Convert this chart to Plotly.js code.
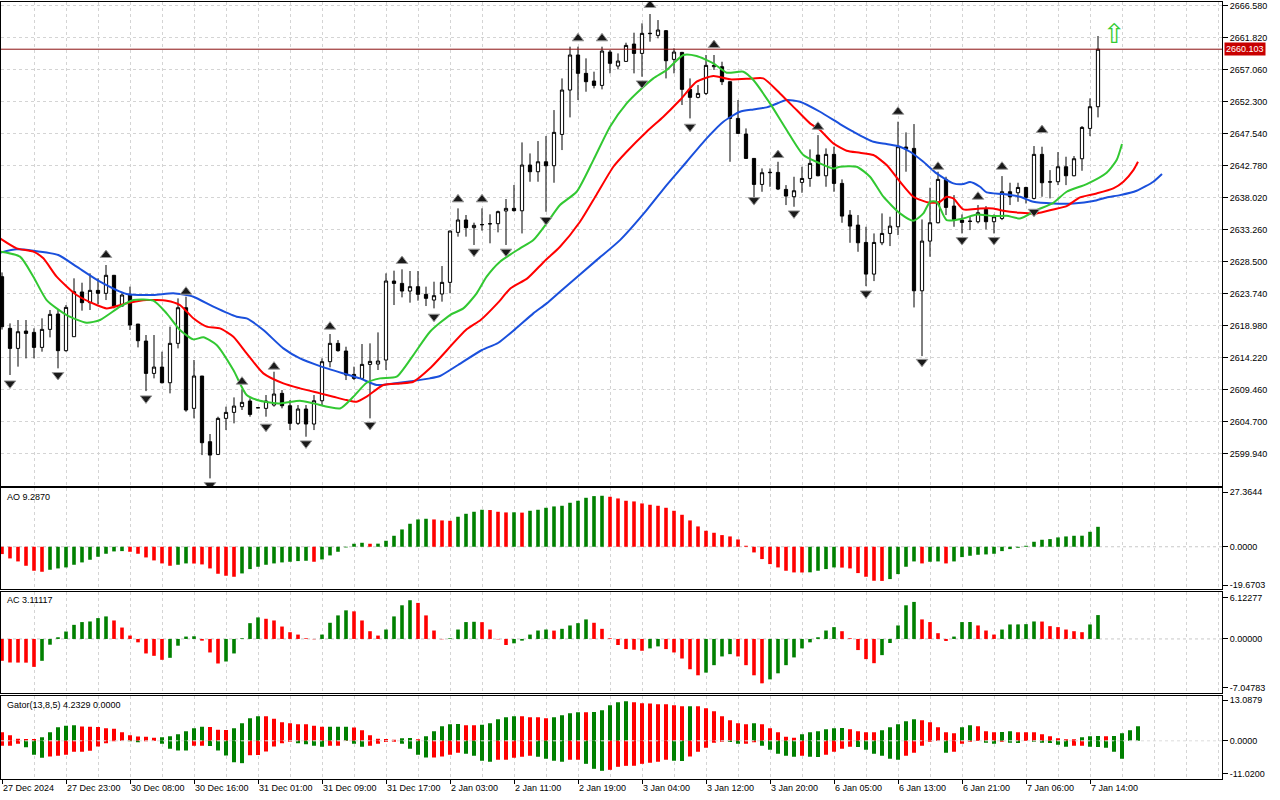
<!DOCTYPE html>
<html><head><meta charset="utf-8">
<script src="https://cdn.plot.ly/plotly-3.0.1.min.js"></script>
<style>html,body{margin:0;padding:0;background:#fff}#chart{width:1280px;height:800px}</style>
</head><body><div id="chart"></div>
<script>
// ---------- DATA ----------
const xTickVals = [0,8,16,24,32,40,48,56,64,72,80,88,96,104,112,120,128,136];
const xTickText = ["27 Dec 2024","27 Dec 23:00","30 Dec 08:00","30 Dec 16:00","31 Dec 01:00","31 Dec 09:00","31 Dec 17:00","2 Jan 03:00","2 Jan 11:00","2 Jan 19:00","3 Jan 04:00","3 Jan 12:00","3 Jan 20:00","6 Jan 05:00","6 Jan 13:00","6 Jan 21:00","7 Jan 06:00","7 Jan 14:00"];
const priceTicks = [2599.94,2604.70,2609.46,2614.22,2618.98,2623.74,2628.50,2633.26,2638.02,2642.78,2647.54,2652.30,2657.06,2661.82,2666.58];

const openP = [
2626.27,2618.58,2615.60,2618.18,2617.98,2615.75,2618.43,2620.71,2615.26,2617.34,
2623.99,2622.40,2624.23,2623.79,2626.47,2621.90,2623.64,2619.22,2616.69,2611.88,
2612.82,2610.49,2616.35,2621.65,2606.68,2611.49,2601.72,2599.83,2605.19,2606.08,
2606.93,2607.77,2606.78,2606.68,2607.17,2608.91,2607.07,2604.45,2606.58,2604.35,
2607.81,2613.62,2616.35,2615.21,2611.73,2611.14,2613.22,2613.27,2613.87,2625.62,
2625.27,2624.13,2624.78,2623.64,2622.79,2623.69,2625.42,2632.86,2634.70,2633.56,
2634.03,2634.15,2634.15,2636.04,2636.43,2636.07,2642.87,2641.88,2643.36,2642.77,
2647.43,2654.03,2659.24,2656.51,2655.37,2654.72,2659.68,2657.60,2658.29,2660.87,
2659.48,2662.41,2662.16,2662.86,2658.59,2659.63,2654.13,2652.94,2653.53,2657.50,
2657.50,2655.27,2649.81,2647.48,2643.86,2639.99,2641.73,2641.78,2639.25,2638.16,
2640.29,2640.88,2644.36,2641.28,2644.46,2640.14,2635.43,2633.94,2631.36,2626.65,
2631.31,2632.70,2633.69,2645.55,2645.35,2624.17,2631.56,2634.29,2640.74,2636.77,
2634.68,2634.54,2634.44,2636.27,2634.44,2634.93,2638.90,2638.75,2639.54,2637.91,
2644.46,2640.39,2640.39,2642.62,2641.28,2643.81,2648.32,2651.55];
const highP = [
2626.90,2619.32,2619.82,2619.82,2618.58,2620.07,2621.31,2621.31,2622.05,2626.02,
2625.37,2626.76,2626.02,2628.00,2626.52,2623.79,2624.78,2619.22,2617.59,2617.59,
2615.11,2618.83,2623.04,2623.29,2613.87,2611.49,2602.86,2605.44,2606.93,2608.31,
2609.50,2608.17,2606.82,2608.66,2612.13,2609.40,2607.91,2607.17,2607.17,2608.66,
2614.11,2617.74,2616.84,2615.85,2612.88,2616.25,2616.35,2617.98,2626.76,2627.16,
2627.36,2627.11,2627.11,2624.78,2625.52,2627.85,2633.10,2636.43,2635.44,2634.30,
2636.43,2635.54,2636.09,2637.82,2639.91,2646.24,2644.60,2646.44,2647.18,2651.05,
2655.76,2660.48,2660.48,2658.74,2656.76,2660.48,2659.98,2659.48,2661.07,2662.56,
2663.95,2665.34,2664.44,2662.96,2660.23,2659.70,2655.76,2654.77,2659.24,2659.24,
2658.24,2655.30,2652.54,2648.32,2643.90,2642.37,2642.37,2643.36,2639.89,2641.13,
2642.62,2645.20,2647.33,2645.35,2645.60,2640.74,2636.17,2635.43,2633.69,2632.70,
2635.68,2635.18,2649.32,2647.73,2648.97,2634.78,2639.50,2641.88,2641.13,2638.40,
2635.53,2635.18,2636.92,2636.77,2635.53,2641.23,2640.24,2640.24,2639.64,2645.70,
2645.60,2642.12,2644.80,2644.11,2644.21,2648.67,2652.79,2662.06];
const lowP = [
2618.40,2611.64,2612.88,2614.11,2614.11,2615.11,2617.24,2612.63,2615.11,2617.34,
2621.21,2621.31,2622.20,2622.79,2621.55,2621.80,2618.33,2615.75,2609.25,2611.14,
2610.39,2608.91,2615.60,2606.18,2605.19,2599.73,2596.26,2599.73,2603.45,2604.45,
2606.43,2605.44,2606.74,2605.44,2606.93,2606.68,2603.45,2604.20,2602.46,2603.45,
2607.17,2612.78,2615.11,2610.89,2610.89,2610.89,2605.19,2612.38,2612.38,2622.05,
2623.19,2622.40,2622.70,2621.90,2621.55,2622.55,2623.79,2632.22,2632.22,2630.98,
2633.11,2631.23,2632.86,2630.98,2635.94,2632.70,2640.39,2640.39,2635.92,2640.24,
2645.10,2649.96,2652.54,2653.78,2654.28,2654.13,2656.51,2657.10,2658.24,2656.51,
2656.01,2661.22,2661.72,2655.76,2656.51,2651.80,2649.81,2652.79,2653.28,2657.01,
2654.77,2643.36,2647.50,2643.80,2637.66,2638.90,2639.64,2639.15,2636.92,2636.67,
2638.75,2639.64,2641.20,2639.64,2638.90,2634.29,2631.31,2629.97,2624.86,2625.61,
2630.96,2630.82,2632.45,2641.88,2621.69,2614.45,2629.23,2634.19,2635.43,2633.69,
2632.70,2633.20,2634.19,2633.30,2632.70,2634.68,2636.92,2637.41,2637.16,2637.76,
2638.16,2637.91,2639.89,2639.89,2641.20,2642.02,2647.18,2649.96];
const closeP = [
2618.83,2615.60,2618.08,2617.83,2615.75,2618.43,2620.66,2615.26,2621.70,2624.03,
2622.40,2624.23,2623.79,2626.47,2621.90,2623.54,2619.07,2616.74,2611.88,2612.82,
2610.49,2616.35,2621.65,2606.43,2611.49,2601.57,2599.73,2605.19,2606.08,2607.02,
2607.57,2605.78,2606.76,2607.77,2608.81,2607.07,2604.45,2606.58,2604.35,2607.81,
2613.62,2616.35,2615.26,2611.64,2611.14,2613.22,2613.67,2613.72,2625.62,2625.27,
2624.13,2624.78,2623.64,2623.04,2623.44,2625.42,2633.06,2634.70,2633.56,2633.90,
2634.00,2634.13,2635.94,2636.43,2636.09,2642.87,2641.88,2643.36,2642.77,2647.73,
2654.03,2659.24,2656.51,2655.27,2654.72,2659.83,2658.00,2658.34,2660.67,2659.48,
2662.46,2662.46,2662.96,2658.39,2659.68,2654.13,2652.94,2653.53,2657.70,2657.70,
2655.27,2649.81,2647.58,2643.86,2639.99,2641.73,2641.78,2639.30,2638.26,2639.05,
2640.88,2643.12,2641.28,2644.46,2640.14,2635.28,2633.79,2631.31,2626.65,2631.36,
2632.70,2633.79,2645.60,2645.30,2624.17,2631.56,2634.29,2640.74,2636.57,2634.78,
2634.34,2634.49,2635.78,2634.44,2635.18,2638.90,2638.16,2639.54,2638.06,2644.46,
2640.24,2640.34,2642.62,2641.28,2643.81,2648.47,2651.55,2660.103];

// Alligator lines (bar position, price)
const jawX = [-0.25,1.83,3.92,7.04,9.33,12.25,15.58,18.92,21.42,23.92,26.42,29.33,30.58,32.67,35.17,37.25,39.75,42.67,44.75,46.83,48.92,53.5,54.75,57,60,62,64.12,66.42,68.08,69.75,74.33,77.25,80.58,83.08,85.58,88.08,90.17,92.25,93.92,95.58,96.42,98.08,99.75,102.25,104.75,106.42,108.92,110.58,112.25,113.5,115.17,116.83,118.92,120.17,121,122.25,123.08,125.17,127.25,128.92,131.42,133.92,136.42,138.08,139.75,141.83,143.92,145];
const jawY = [2629.84,2630.33,2630.13,2629.49,2627.75,2625.52,2623.69,2623.54,2623.79,2623.29,2621.80,2620.31,2620.07,2618.33,2615.60,2614.11,2612.97,2611.88,2611.14,2610.15,2610.39,2611.14,2611.49,2613.13,2615.36,2616.40,2618.43,2620.81,2622.30,2624.03,2628.73,2631.71,2636.17,2639.89,2643.36,2646.84,2649.32,2650.80,2651.15,2651.45,2651.80,2652.54,2652.29,2650.80,2648.97,2647.83,2646.34,2645.99,2645.60,2644.85,2643.36,2641.63,2640.14,2640.04,2640.34,2639.64,2638.80,2638.55,2638.16,2637.41,2637.16,2637.16,2637.51,2638.06,2638.40,2639.05,2640.39,2641.53];
const teethX = [-0.25,1.83,3.92,5.17,6.83,9.33,11.83,13.08,15.58,18.08,20.58,22.25,23.92,25.58,27.25,28.92,30.58,32.67,35.17,37.25,39.75,41.42,43.08,44.33,45.58,47.67,49.75,51.42,53.5,58.08,59.83,61.92,63.58,65.67,67.75,69.75,72.25,74.33,76.42,78.08,80.58,82.67,84.75,86.83,88.92,91,93.92,95.17,97.25,99.33,101,102.25,103.92,105.58,107.25,108.92,110.58,112.25,113.92,116,117.25,118.08,118.92,120.17,122.25,123.92,125.17,127.25,129.33,131.42,133.08,134.75,136.83,138.92,140.17,141.42,142];
const teethY = [2631.97,2630.48,2629.99,2629.00,2626.27,2623.54,2622.05,2621.55,2622.30,2622.79,2622.70,2622.05,2620.07,2618.83,2618.58,2617.34,2614.86,2611.88,2610.39,2609.65,2608.91,2608.41,2607.91,2607.67,2608.41,2610.15,2610.39,2610.64,2612.63,2618.43,2619.82,2622.30,2624.53,2626.02,2628.50,2630.72,2634.44,2638.50,2642.62,2644.85,2647.83,2650.06,2652.54,2655.27,2656.11,2655.62,2655.76,2655.76,2653.53,2651.05,2649.07,2648.08,2646.09,2645.00,2644.70,2644.36,2642.87,2640.39,2638.16,2637.26,2637.41,2638.16,2637.91,2636.27,2636.42,2636.42,2636.07,2635.78,2635.68,2636.27,2636.77,2638.06,2638.65,2639.40,2640.39,2642.12,2643.36];
const lipsX = [-0.25,2.25,3.92,5.58,8.08,10.58,12.25,14.75,16.42,18.92,20.58,22.25,23.92,25.17,26.83,28.92,30.58,32.25,34.75,37.25,38.92,42.25,43.92,45.58,47.25,49.33,51.42,53.5,56,57.67,59.33,60.58,62.25,64.75,66.42,68.08,69.75,71.83,73.92,76,78.08,79.75,81.42,83.08,85.17,86.83,88.92,90.58,92.67,93.92,96,98.08,100.17,102.25,103.92,104.75,106.83,108.5,110.17,112.25,113.92,115.17,116,116.83,118.08,120.17,121.83,123.92,125.58,127.25,129.33,131.42,133.08,135.58,138.08,139.33,140];
const lipsY = [2629.99,2629.24,2626.27,2622.79,2620.56,2619.42,2619.82,2621.80,2622.79,2622.70,2620.81,2618.33,2616.94,2617.24,2616.10,2612.38,2608.66,2607.81,2607.42,2607.81,2607.42,2606.67,2608.41,2610.49,2611.14,2611.39,2614.61,2618.08,2620.56,2621.55,2623.79,2626.27,2628.50,2630.48,2631.72,2634.20,2636.93,2638.90,2643.61,2648.57,2652.04,2654.03,2655.76,2657.00,2659.24,2659.09,2658.00,2656.61,2656.76,2655.52,2652.04,2648.08,2644.36,2643.12,2642.37,2642.62,2642.62,2641.13,2638.16,2635.68,2634.59,2635.68,2637.41,2637.41,2634.68,2634.93,2635.53,2635.28,2635.33,2634.93,2636.17,2637.26,2638.90,2640.04,2641.73,2643.61,2646.00];

// Fractals
const fracUpX = [13,23,30,34,41,50,57,60,72,75,81,89,97,102,112,117,122,125,130];
const fracUpY = [2629.49,2624.03,2610.64,2612.88,2618.83,2628.60,2637.77,2637.77,2661.72,2661.72,2666.68,2660.72,2644.36,2648.57,2650.80,2642.62,2638.16,2642.62,2648.08];
const fracDnX = [1,7,18,26,33,38,46,54,59,63,68,80,86,94,99,108,115,120,124,129];
const fracDnY = [2610.39,2611.64,2608.16,2595.27,2603.95,2601.47,2604.20,2620.31,2629.99,2629.99,2634.70,2655.02,2648.57,2637.66,2635.68,2623.77,2613.60,2631.71,2631.71,2635.92];
const signalX = [139];
const signalY = [2662.44];

// Awesome Oscillator
const aoVals = [
-3.41,-5.43,-6.83,-8.85,-11.17,-11.64,-10.71,-10.09,-9.62,-8.38,
-7.29,-6.05,-4.66,-3.26,-2.17,-2.02,-2.33,-3.26,-4.97,-6.36,
-7.76,-8.85,-8.38,-7.76,-7.80,-8.23,-10.09,-12.57,-13.50,-13.97,
-12.42,-10.40,-9.31,-8.38,-7.76,-7.29,-6.98,-6.67,-6.52,-6.98,
-5.90,-4.04,-2.33,-0.31,1.40,1.86,1.40,1.45,2.79,5.12,
8.07,10.71,12.73,13.04,12.73,12.26,12.10,13.97,15.36,16.30,
17.23,17.10,16.30,15.99,16.05,15.90,16.76,17.23,18.16,18.78,
19.09,20.49,21.42,22.81,23.59,23.75,23.28,22.50,21.42,21.11,
20.18,19.56,19.09,18.16,16.76,14.90,12.26,9.47,7.45,6.52,
5.43,4.81,3.41,0.47,-2.64,-5.74,-8.07,-9.62,-11.17,-11.95,
-11.98,-11.90,-11.17,-10.40,-9.62,-9.70,-10.09,-12.26,-13.97,-15.83,
-15.90,-15.05,-12.73,-9.31,-6.83,-7.76,-6.98,-6.83,-7.76,-6.83,
-4.81,-4.19,-3.72,-3.57,-3.26,-2.02,-1.09,-0.47,0.47,2.33,
3.26,3.57,4.35,4.81,5.12,5.15,6.98,9.287];
const aoTickVals = [25.50, 0, -17.81];
const aoTickText = ["27.3644","0.0000","-19.6703"];

// Accelerator Oscillator
const acVals = [
-2.85,-3.07,-3.08,-3.09,-3.64,-2.85,-0.75,0.22,0.97,1.84,
2.20,2.28,2.72,2.94,2.41,1.49,0.44,-0.44,-1.89,-2.20,
-2.72,-2.46,-0.88,0.31,0.35,-0.22,-1.76,-3.20,-2.94,-1.89,
0.09,2.06,2.81,2.63,2.41,1.62,0.88,0.57,0.09,-0.04,
0.57,2.11,3.07,3.73,3.60,2.41,1.01,0.44,1.23,2.94,
4.39,5.05,4.70,3.07,1.10,-0.04,0.09,1.23,2.20,2.24,
2.19,1.23,-0.05,-0.79,-0.57,-0.22,0.57,1.10,1.23,1.09,
1.32,1.76,2.06,2.55,2.11,1.32,0.09,-0.79,-1.32,-1.40,
-1.54,-1.23,-0.97,-1.32,-1.76,-2.55,-3.95,-4.74,-4.39,-3.42,
-2.28,-1.98,-2.28,-3.42,-4.74,-5.79,-5.27,-4.48,-3.42,-2.41,
-1.23,-0.44,0.22,1.10,1.54,1.01,0.09,-1.45,-2.63,-3.16,
-2.11,-0.53,1.76,4.39,4.83,2.55,2.20,0.75,-0.26,0.31,
2.20,2.21,1.76,1.10,0.57,1.23,1.89,1.90,1.93,2.28,
2.27,1.67,1.54,1.23,1.01,0.88,1.89,3.11117];
const acTickVals = [5.38, 0, -6.36];
const acTickText = ["6.12277","0.00000","-7.04783"];

// Gator Oscillator
const gatorUp = [
2.50,1.64,0.62,0.55,0.50,1.06,2.50,3.94,4.33,4.52,
4.14,4.04,3.98,3.66,3.46,2.50,1.64,1.25,1.15,0.87,
1.06,1.35,1.92,2.79,3.66,4.04,3.98,3.17,3.15,3.66,
5.10,6.54,7.12,7.10,6.35,5.39,5.10,4.81,4.79,4.33,
4.04,4.06,4.08,4.10,3.85,3.08,1.64,0.58,0.50,0.29,
0.77,0.79,0.48,1.35,2.79,4.23,4.81,4.83,4.52,4.50,
4.62,5.10,6.25,6.83,7.12,7.10,6.83,6.81,6.54,6.83,
7.41,7.98,8.27,8.25,8.29,8.85,10.29,11.16,11.45,11.16,
10.87,10.77,10.58,10.56,10.29,10.00,10.02,9.98,9.43,8.56,
7.12,5.96,5.10,4.81,5.10,4.81,3.66,2.50,1.15,0.87,
1.92,2.50,2.79,3.37,3.66,3.68,3.37,2.79,2.50,2.48,
3.08,3.94,4.81,5.68,6.25,5.96,5.39,3.94,2.50,2.21,
3.94,4.52,4.23,2.79,2.50,2.52,2.79,2.50,2.48,2.46,
1.92,1.35,0.77,0.48,0.46,1.06,1.35,1.37,1.35,1.40,
2.21,3.08,4.2329];
const gatorLo = [
-1.44,-1.40,-0.87,-1.83,-4.04,-4.91,-4.52,-4.33,-4.04,-3.17,
-3.15,-2.89,-1.64,-0.67,-0.10,-0.05,-0.10,-0.38,-0.10,-0.08,
-0.87,-2.31,-2.79,-2.80,-1.44,-1.42,-1.50,-2.79,-4.23,-6.16,
-6.45,-4.14,-4.12,-3.08,-1.64,-0.67,-0.29,-0.67,-0.96,-1.44,
-1.73,-1.44,-1.40,-0.05,-0.87,-1.73,-1.44,-0.87,-0.35,-0.29,
-0.87,-2.31,-4.04,-4.81,-4.79,-4.52,-4.04,-3.46,-3.75,-4.33,
-5.77,-6.06,-5.48,-5.46,-4.91,-4.62,-4.33,-4.62,-5.19,-5.77,
-6.06,-5.48,-5.46,-6.64,-8.08,-8.66,-8.37,-7.50,-7.22,-7.20,
-6.64,-6.35,-6.06,-5.48,-5.77,-5.79,-4.52,-3.17,-2.02,-0.58,
-0.29,-0.31,-0.87,-0.85,-0.40,-1.44,-2.60,-3.75,-4.33,-4.62,
-4.33,-4.62,-4.64,-4.04,-3.17,-2.31,-1.73,-1.75,-2.60,-3.75,
-4.33,-5.19,-5.48,-4.33,-3.46,-1.44,-0.29,-0.05,-3.46,-3.17,
-0.87,-0.29,-0.05,-0.58,-0.87,-0.29,-0.58,-0.62,-0.05,-0.29,
-0.58,-0.60,-1.15,-1.73,-1.44,-1.42,-1.73,-1.75,-2.02,-3.17,
-5.19];
const gatorTickVals = [11.70, 0, -9.49];
const gatorTickText = ["13.0879","0.0000","-11.0200"];

// ---------- STYLE / LAYOUT ----------
const FONT = 'Liberation Sans, Arial, sans-serif';
const FS = 9;
const GREEN = '#008000', RED = '#ff0000';
const GRID = '#d4d4d4';
const W = 1280, H = 800;
const px = v => v / W, py = v => 1 - v / H;

function risingColors(vals, useAbs) {
  return vals.map((v, i) => {
    if (i === 0) return RED;
    const a = useAbs ? Math.abs(v) : v;
    const b = useAbs ? Math.abs(vals[i - 1]) : vals[i - 1];
    return a > b ? GREEN : RED;
  });
}
const idx = arr => arr.map((_, i) => i);

const xRange = [-0.125, 152.5];
const xDomain = [px(1), px(1222)];
const minorVals = [];
for (let v = 0; v <= 152; v += 4) if (!xTickVals.includes(v)) minorVals.push(v);

function xAxis(anchor, showLabels) {
  const ax = {
    domain: xDomain, range: xRange, anchor: anchor, fixedrange: true,
    tickmode: 'array', tickvals: xTickVals, ticktext: xTickText, tickangle: 0,
    showticklabels: showLabels, ticks: showLabels ? 'outside' : '', ticklen: 4, tickcolor: '#000',
    tickfont: {family: FONT, size: FS, color: '#000'},
    showgrid: true, gridcolor: GRID, griddash: '3px,3px', gridwidth: 1,
    minor: {tickmode: 'array', tickvals: minorVals, showgrid: true, gridcolor: GRID, griddash: '3px,3px', ticks: ''},
    showline: true, mirror: true, linecolor: '#000', linewidth: 1, zeroline: false
  };
  if (showLabels) ax.ticklabelposition = 'outside right';
  return ax;
}
function yAxis(anchor, dom, range, tv, tt, grid) {
  return {
    domain: dom, range: range, anchor: anchor, side: 'right', fixedrange: true,
    tickmode: 'array', tickvals: tv, ticktext: tt,
    ticks: 'outside', ticklen: 5, tickcolor: '#000',
    tickfont: {family: FONT, size: FS, color: '#000'},
    showgrid: grid, gridcolor: GRID, griddash: '3px,3px',
    showline: true, mirror: true, linecolor: '#000', linewidth: 1, zeroline: false
  };
}

const last = closeP.length - 1;
const traces = [
  {type: 'candlestick', x: idx(openP), open: openP, high: highP, low: lowP, close: closeP,
   xaxis: 'x', yaxis: 'y', whiskerwidth: 0,
   increasing: {line: {color: '#000', width: 1}, fillcolor: '#ffffff'},
   decreasing: {line: {color: '#000', width: 1}, fillcolor: '#000000'},
   hoverinfo: 'skip'},
  {type: 'scatter', mode: 'lines', x: jawX, y: jawY, xaxis: 'x', yaxis: 'y',
   line: {color: '#1a50dc', width: 2, shape: 'spline', smoothing: 0.6}, hoverinfo: 'skip'},
  {type: 'scatter', mode: 'lines', x: teethX, y: teethY, xaxis: 'x', yaxis: 'y',
   line: {color: '#ff0000', width: 2, shape: 'spline', smoothing: 0.6}, hoverinfo: 'skip'},
  {type: 'scatter', mode: 'lines', x: lipsX, y: lipsY, xaxis: 'x', yaxis: 'y',
   line: {color: '#32c832', width: 2, shape: 'spline', smoothing: 0.6}, hoverinfo: 'skip'},
  {type: 'scatter', mode: 'markers', x: fracUpX, y: fracUpY, xaxis: 'x', yaxis: 'y',
   marker: {symbol: 'triangle-up', size: 10, color: '#1a1a1a', line: {color: '#9a9a9a', width: 1}}, hoverinfo: 'skip'},
  {type: 'scatter', mode: 'markers', x: fracDnX, y: fracDnY, xaxis: 'x', yaxis: 'y',
   marker: {symbol: 'triangle-down', size: 10, color: '#1a1a1a', line: {color: '#9a9a9a', width: 1}}, hoverinfo: 'skip'},
  {type: 'bar', x: idx(aoVals), y: aoVals, xaxis: 'x2', yaxis: 'y2', width: 0.45,
   marker: {color: risingColors(aoVals, false), line: {width: 0}}, hoverinfo: 'skip'},
  {type: 'bar', x: idx(acVals), y: acVals, xaxis: 'x3', yaxis: 'y3', width: 0.45,
   marker: {color: risingColors(acVals, false), line: {width: 0}}, hoverinfo: 'skip'},
  {type: 'bar', x: idx(gatorUp), y: gatorUp, xaxis: 'x4', yaxis: 'y4', width: 0.5,
   marker: {color: risingColors(gatorUp, true), line: {width: 0}}, hoverinfo: 'skip'},
  {type: 'bar', x: idx(gatorLo), y: gatorLo, xaxis: 'x4', yaxis: 'y4', width: 0.5,
   marker: {color: risingColors(gatorLo, true), line: {width: 0}}, hoverinfo: 'skip'}
];

const zeroLine = (xr, yr, color, layer) => ({type: 'line', xref: xr + ' domain', x0: 0, x1: 1, yref: yr, y0: 0, y1: 0,
  line: {color: color, width: 1, dash: '3px,3px'}, layer: layer});

const layout = {
  width: W, height: H, margin: {l: 0, r: 0, t: 0, b: 0, pad: 0},
  paper_bgcolor: '#ffffff', plot_bgcolor: '#ffffff', showlegend: false, hovermode: false,
  barmode: 'overlay', boxgap: 0.42,
  xaxis: Object.assign(xAxis('y', false), {rangeslider: {visible: false}}),
  xaxis2: xAxis('y2', false),
  xaxis3: xAxis('y3', false),
  xaxis4: xAxis('y4', true),
  yaxis: yAxis('x', [py(486), py(1.5)], [2595.13, 2667.20], priceTicks, priceTicks.map(v => v.toFixed(3)), true),
  yaxis2: yAxis('x2', [py(589), py(488)], [-19.6703, 27.3644], aoTickVals, aoTickText, false),
  yaxis3: yAxis('x3', [py(693), py(592)], [-7.04783, 6.12277], acTickVals, acTickText, false),
  yaxis4: yAxis('x4', [py(779), py(695.5)], [-11.02, 13.0879], gatorTickVals, gatorTickText, false),
  shapes: [
    zeroLine('x2', 'y2', '#c8c8c8', 'below'),
    zeroLine('x3', 'y3', '#c8c8c8', 'below'),
    zeroLine('x4', 'y4', '#dcdcdc', 'above'),
    {type: 'line', xref: 'x domain', x0: 0, x1: 1, yref: 'y', y0: closeP[last], y1: closeP[last],
     line: {color: '#8b1010', width: 1}, layer: 'above'}
  ],
  annotations: [
    {xref: 'paper', x: px(1224), xanchor: 'left', yref: 'y', y: closeP[last], yanchor: 'middle',
     text: closeP[last].toFixed(3), showarrow: false, bgcolor: '#c80000', borderpad: 1,
     font: {family: FONT, size: FS, color: '#ffffff'}},
    {xref: 'x', x: signalX[0], yref: 'y', y: signalY[0], text: '\u21E7', showarrow: false,
     font: {family: 'DejaVu Sans', size: 27, color: '#33cc33'}},
    {xref: 'paper', x: px(5), xanchor: 'left', yref: 'paper', y: py(497), yanchor: 'middle',
     text: 'AO ' + aoVals[last].toFixed(4), showarrow: false, font: {family: FONT, size: FS, color: '#000'}},
    {xref: 'paper', x: px(5), xanchor: 'left', yref: 'paper', y: py(600), yanchor: 'middle',
     text: 'AC ' + acVals[last].toFixed(5), showarrow: false, font: {family: FONT, size: FS, color: '#000'}},
    {xref: 'paper', x: px(5), xanchor: 'left', yref: 'paper', y: py(704.5), yanchor: 'middle',
     text: 'Gator(13,8,5) ' + gatorUp[gatorUp.length - 1].toFixed(4) + ' 0.0000', showarrow: false,
     font: {family: FONT, size: FS, color: '#000'}}
  ]
};

Plotly.newPlot('chart', traces, layout, {staticPlot: true, displayModeBar: false});
</script>
</body></html>
